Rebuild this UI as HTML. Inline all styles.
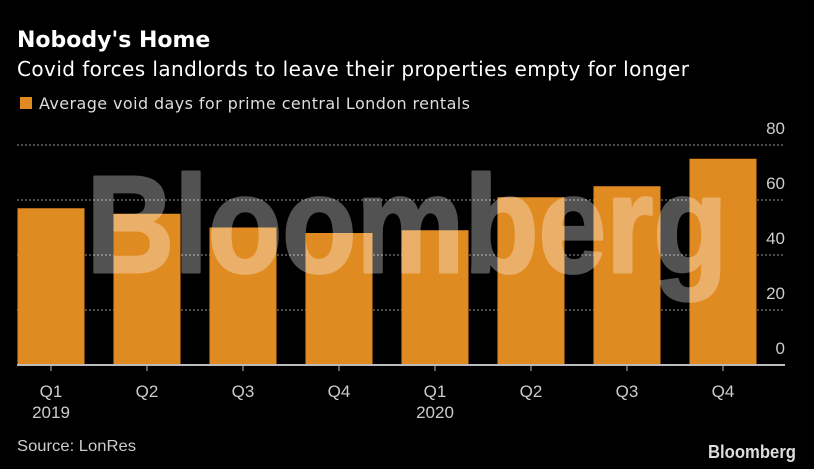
<!DOCTYPE html>
<html><head><meta charset="utf-8">
<style>
html,body{margin:0;padding:0;background:#000;}
svg{display:block;}
</style></head>
<body>
<svg id="chart" width="814" height="469" viewBox="0 0 814 469" xmlns="http://www.w3.org/2000/svg">
<rect width="814" height="469" fill="#000"/>
<text x="17" y="47" fill="#fff" font-family="DejaVu Sans, sans-serif" font-weight="bold" font-size="22">Nobody's Home</text>
<text x="17" y="76" fill="#fff" font-family="DejaVu Sans, sans-serif" font-size="20" textLength="672">Covid forces landlords to leave their properties empty for longer</text>
<rect x="20" y="97" width="12" height="12" fill="#e08b22"/>
<text x="39" y="109" fill="#ddd" font-family="DejaVu Sans, sans-serif" font-size="16" textLength="431">Average void days for prime central London rentals</text>
<g id="grid"></g>
<g id="bars"></g>
<g opacity="0.32">
<text x="407" y="272" text-anchor="middle" fill="#fff" stroke="#fff" stroke-width="3" stroke-linejoin="round" font-family="Liberation Sans, sans-serif" font-weight="bold" font-size="138" textLength="641" lengthAdjust="spacingAndGlyphs">Bloomberg</text>
</g>
<g id="axes"></g>
<text x="17" y="451" fill="#ccc" font-family="Liberation Sans, sans-serif" font-size="16" textLength="119" lengthAdjust="spacingAndGlyphs">Source: LonRes</text>
<text x="796" y="458" text-anchor="end" fill="#ddd" font-family="Liberation Sans, sans-serif" font-weight="bold" font-size="18" textLength="88" lengthAdjust="spacingAndGlyphs">Bloomberg</text>
</svg>
<script>
const categories = ["Q1","Q2","Q3","Q4","Q1","Q2","Q3","Q4"];
const yearLabels = ["2019","","","","2020","","",""];
const values = [57, 55, 50, 48, 49, 61, 65, 75];
const yTicks = [0, 20, 40, 60, 80];

const NS = "http://www.w3.org/2000/svg";
const y0 = 365, pxPerUnit = 2.75;
const yScale = v => y0 - v * pxPerUnit;
const xStart = 51, xStep = 96;
const xScale = i => xStart + i * xStep;
const barW = 67;

function mk(tag, attrs, parent){
  const el = document.createElementNS(NS, tag);
  for (const k in attrs) el.setAttribute(k, attrs[k]);
  parent.appendChild(el);
  return el;
}
const grid = document.getElementById('grid');
const bars = document.getElementById('bars');
const axes = document.getElementById('axes');

yTicks.forEach(t => {
  const y = yScale(t);
  if (t > 0) {
    const l = mk('line', {x1:17, x2:785, y1:y, y2:y, stroke:'#666', 'stroke-width':1.5, 'stroke-dasharray':'2,2'}, grid);
    
    
  }
  const tx = mk('text', {x:785, y:y-11, 'text-anchor':'end', fill:'#ccc', 'font-family':'Liberation Sans, sans-serif', 'font-size':17}, axes);
  tx.textContent = t;
  
  
});

values.forEach((v, i) => {
  const cx = xScale(i);
  const r = mk('rect', {x:cx - barW/2, y:yScale(v), width:barW, height:y0 - yScale(v), fill:'#e08b22'}, bars);
  
  
  const tk = mk('line', {x1:cx, x2:cx, y1:y0, y2:y0+6, stroke:'#bbb', 'stroke-width':1}, axes);
  
  
  const lb = mk('text', {x:cx, y:397, 'text-anchor':'middle', fill:'#ccc', 'font-family':'Liberation Sans, sans-serif', 'font-size':17}, axes);
  lb.textContent = categories[i];
  
  
  if (yearLabels[i]) {
    const yl = mk('text', {x:cx, y:418, 'text-anchor':'middle', fill:'#ccc', 'font-family':'Liberation Sans, sans-serif', 'font-size':17}, axes);
    yl.textContent = yearLabels[i];
    
    
  }
});
const ax = mk('line', {x1:17, x2:785, y1:y0, y2:y0, stroke:'#bbb', 'stroke-width':2}, axes);


</script>
</body></html>
